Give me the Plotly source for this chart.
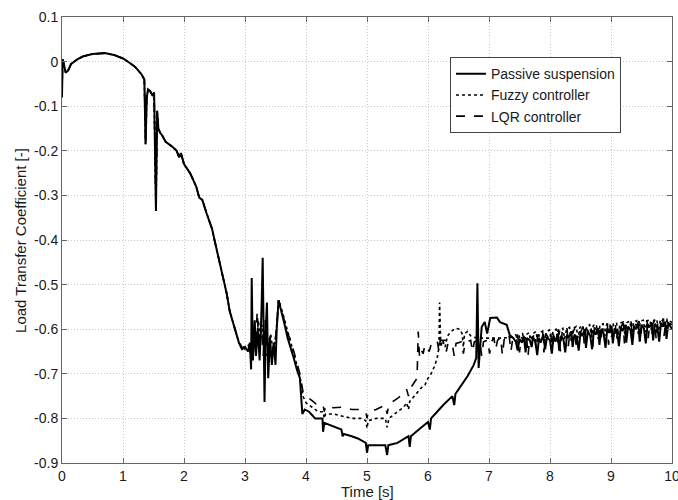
import plotly.graph_objects as go

# ---- data, (time [s], coefficient) pairs ----
early_pts = [(0.0, -0.08), (0.01, 0.005), (0.03, -0.005), (0.06, -0.025), (0.10, -0.02), (0.15, -0.005),
             (0.25, 0.005), (0.35, 0.012), (0.50, 0.017), (0.70, 0.019), (0.85, 0.015), (1.00, 0.007),
             (1.10, -0.002), (1.20, -0.012), (1.30, -0.028), (1.35, -0.04), (1.37, -0.185), (1.39, -0.08),
             (1.41, -0.062), (1.44, -0.065), (1.48, -0.075), (1.51, -0.07), (1.54, -0.335), (1.56, -0.11),
             (1.58, -0.15), (1.61, -0.16), (1.64, -0.165), (1.70, -0.18), (1.80, -0.19), (1.88, -0.20),
             (1.92, -0.215), (1.95, -0.205), (2.00, -0.23), (2.05, -0.24), (2.10, -0.25), (2.15, -0.265),
             (2.20, -0.28), (2.25, -0.305), (2.30, -0.31), (2.37, -0.34), (2.42, -0.36), (2.46, -0.375),
             (2.50, -0.40), (2.55, -0.43), (2.60, -0.46), (2.65, -0.49), (2.70, -0.52), (2.75, -0.56),
             (2.80, -0.585), (2.85, -0.61), (2.90, -0.63)]

passive_pts = [(2.95, -0.645), (3.00, -0.64), (3.05, -0.65), (3.08, -0.63), (3.10, -0.69), (3.11, -0.485),
               (3.13, -0.67), (3.16, -0.58), (3.18, -0.66), (3.21, -0.60), (3.24, -0.67), (3.27, -0.56),
               (3.29, -0.44), (3.32, -0.763), (3.34, -0.60), (3.36, -0.54), (3.38, -0.71), (3.41, -0.62),
               (3.44, -0.68), (3.47, -0.63), (3.50, -0.68), (3.52, -0.60), (3.55, -0.535), (3.60, -0.56),
               (3.65, -0.59), (3.70, -0.62), (3.75, -0.64), (3.80, -0.665), (3.85, -0.69), (3.90, -0.71),
               (3.94, -0.79), (3.98, -0.78), (4.05, -0.785), (4.15, -0.80), (4.27, -0.80), (4.28, -0.83),
               (4.30, -0.81), (4.40, -0.815), (4.50, -0.82), (4.58, -0.825), (4.60, -0.84), (4.62, -0.835),
               (4.75, -0.84), (4.85, -0.845), (4.98, -0.855), (5.00, -0.877), (5.02, -0.86), (5.15, -0.86),
               (5.30, -0.86), (5.33, -0.882), (5.35, -0.86), (5.50, -0.855), (5.68, -0.84), (5.70, -0.864),
               (5.72, -0.84), (5.85, -0.825), (6.00, -0.808), (6.03, -0.825), (6.05, -0.80), (6.15, -0.785),
               (6.25, -0.77), (6.40, -0.75), (6.43, -0.77), (6.45, -0.745), (6.55, -0.725), (6.65, -0.705),
               (6.75, -0.68), (6.79, -0.665), (6.81, -0.497), (6.83, -0.687), (6.88, -0.595), (6.93, -0.584),
               (6.97, -0.61), (7.02, -0.575), (7.13, -0.574), (7.18, -0.584), (7.29, -0.59), (7.34, -0.613),
               (7.40, -0.62), (7.44, -0.628), (7.47, -0.648), (7.50, -0.622), (7.54, -0.63), (7.57, -0.615),
               (7.60, -0.652), (7.62, -0.62), (7.67, -0.625), (7.70, -0.64), (7.72, -0.618), (7.76, -0.628),
               (7.79, -0.658), (7.82, -0.62), (7.85, -0.63), (7.89, -0.612), (7.92, -0.645), (7.95, -0.618),
               (8.00, -0.625), (8.03, -0.655), (8.06, -0.615), (8.09, -0.628), (8.13, -0.61), (8.15, -0.648),
               (8.18, -0.615), (8.22, -0.622), (8.25, -0.652), (8.28, -0.612), (8.31, -0.62), (8.35, -0.605),
               (8.37, -0.64), (8.40, -0.612), (8.44, -0.618), (8.47, -0.648), (8.50, -0.608), (8.53, -0.615),
               (8.57, -0.60), (8.59, -0.642), (8.62, -0.605), (8.66, -0.615), (8.69, -0.645), (8.72, -0.602),
               (8.75, -0.612), (8.79, -0.598), (8.81, -0.635), (8.84, -0.60), (8.88, -0.61), (8.91, -0.642),
               (8.94, -0.598), (8.97, -0.608), (9.01, -0.594), (9.03, -0.632), (9.06, -0.598), (9.10, -0.606),
               (9.13, -0.638), (9.16, -0.595), (9.19, -0.604), (9.23, -0.59), (9.25, -0.63), (9.28, -0.594),
               (9.32, -0.602), (9.35, -0.635), (9.38, -0.592), (9.41, -0.60), (9.45, -0.588), (9.47, -0.628),
               (9.50, -0.59), (9.54, -0.598), (9.57, -0.632), (9.60, -0.588), (9.63, -0.596), (9.67, -0.585),
               (9.69, -0.625), (9.72, -0.588), (9.76, -0.596), (9.79, -0.628), (9.82, -0.586), (9.85, -0.594),
               (9.89, -0.583), (9.91, -0.622), (9.94, -0.586), (9.97, -0.592), (10.0, -0.60)]

fuzzy_pts = [(2.95, -0.64), (3.00, -0.64), (3.05, -0.635), (3.10, -0.655), (3.15, -0.61), (3.18, -0.64),
             (3.22, -0.58), (3.25, -0.63), (3.28, -0.59), (3.31, -0.65), (3.35, -0.60), (3.38, -0.64),
             (3.42, -0.61), (3.46, -0.65), (3.50, -0.625), (3.55, -0.535), (3.60, -0.555), (3.65, -0.58),
             (3.70, -0.605), (3.75, -0.625), (3.80, -0.655), (3.85, -0.68), (3.90, -0.705), (3.95, -0.75),
             (4.00, -0.765), (4.10, -0.775), (4.20, -0.785), (4.28, -0.785), (4.30, -0.80), (4.32, -0.79),
             (4.45, -0.79), (4.60, -0.795), (4.75, -0.80), (4.90, -0.80), (4.98, -0.805), (5.00, -0.822),
             (5.02, -0.805), (5.15, -0.80), (5.30, -0.80), (5.33, -0.82), (5.36, -0.80), (5.50, -0.785),
             (5.60, -0.775), (5.65, -0.765), (5.68, -0.78), (5.70, -0.762), (5.80, -0.745), (5.90, -0.73),
             (5.95, -0.725), (6.00, -0.71), (6.05, -0.70), (6.10, -0.685), (6.15, -0.665), (6.18, -0.64),
             (6.19, -0.54), (6.21, -0.64), (6.24, -0.625), (6.28, -0.64), (6.32, -0.615), (6.38, -0.605),
             (6.45, -0.598), (6.52, -0.60), (6.56, -0.61), (6.58, -0.64), (6.60, -0.61), (6.65, -0.605),
             (6.70, -0.615), (6.75, -0.618), (6.80, -0.62), (7.00, -0.62), (7.20, -0.62), (7.40, -0.618),
             (7.44, -0.612), (7.47, -0.635), (7.50, -0.615), (7.55, -0.61), (7.58, -0.63), (7.61, -0.612),
             (7.66, -0.608), (7.69, -0.638), (7.72, -0.61), (7.77, -0.605), (7.80, -0.628), (7.83, -0.608),
             (7.88, -0.604), (7.91, -0.634), (7.94, -0.606), (7.99, -0.602), (8.02, -0.625), (8.05, -0.604),
             (8.10, -0.60), (8.13, -0.63), (8.16, -0.602), (8.21, -0.598), (8.24, -0.622), (8.27, -0.60),
             (8.32, -0.596), (8.35, -0.628), (8.38, -0.598), (8.43, -0.594), (8.46, -0.62), (8.49, -0.596),
             (8.54, -0.592), (8.57, -0.625), (8.60, -0.594), (8.65, -0.59), (8.68, -0.618), (8.71, -0.592),
             (8.76, -0.589), (8.79, -0.622), (8.82, -0.59), (8.87, -0.588), (8.90, -0.615), (8.93, -0.589),
             (8.98, -0.586), (9.01, -0.618), (9.04, -0.588), (9.09, -0.585), (9.12, -0.612), (9.15, -0.586),
             (9.20, -0.584), (9.23, -0.615), (9.26, -0.585), (9.31, -0.582), (9.34, -0.61), (9.37, -0.584),
             (9.42, -0.581), (9.45, -0.612), (9.48, -0.582), (9.53, -0.58), (9.56, -0.606), (9.59, -0.581),
             (9.64, -0.579), (9.67, -0.61), (9.70, -0.58), (9.75, -0.578), (9.78, -0.604), (9.81, -0.579),
             (9.86, -0.577), (9.89, -0.606), (9.92, -0.578), (10.0, -0.585)]

lqr_pts = [(2.95, -0.64), (3.00, -0.645), (3.05, -0.63), (3.10, -0.66), (3.14, -0.60), (3.17, -0.65),
           (3.20, -0.56), (3.23, -0.64), (3.27, -0.60), (3.30, -0.66), (3.33, -0.58), (3.36, -0.66),
           (3.40, -0.62), (3.44, -0.66), (3.48, -0.635), (3.52, -0.60), (3.55, -0.535), (3.60, -0.555),
           (3.65, -0.585), (3.70, -0.61), (3.75, -0.625), (3.80, -0.65), (3.85, -0.675), (3.90, -0.70),
           (3.95, -0.74), (4.00, -0.75), (4.10, -0.76), (4.20, -0.772), (4.28, -0.77), (4.30, -0.785),
           (4.32, -0.772), (4.45, -0.776), (4.60, -0.775), (4.75, -0.78), (4.90, -0.78), (4.98, -0.785),
           (5.00, -0.80), (5.02, -0.785), (5.15, -0.78), (5.30, -0.77), (5.33, -0.79), (5.36, -0.768),
           (5.50, -0.755), (5.60, -0.745), (5.65, -0.735), (5.68, -0.75), (5.70, -0.735), (5.78, -0.72),
           (5.82, -0.71), (5.83, -0.66), (5.84, -0.605), (5.86, -0.66), (5.88, -0.645), (5.92, -0.655),
           (5.95, -0.635), (5.98, -0.64), (6.02, -0.65), (6.05, -0.635), (6.10, -0.63), (6.15, -0.625),
           (6.18, -0.65), (6.20, -0.625), (6.28, -0.625), (6.30, -0.65), (6.33, -0.63), (6.40, -0.635),
           (6.43, -0.66), (6.46, -0.632), (6.55, -0.628), (6.58, -0.655), (6.61, -0.63), (6.70, -0.625),
           (6.73, -0.65), (6.76, -0.628), (6.85, -0.625), (6.88, -0.66), (6.91, -0.628), (6.98, -0.625),
           (7.01, -0.655), (7.04, -0.628), (7.08, -0.62), (7.11, -0.645), (7.14, -0.625), (7.19, -0.618),
           (7.22, -0.658), (7.25, -0.622), (7.29, -0.628), (7.33, -0.615), (7.36, -0.65), (7.39, -0.62),
           (7.43, -0.625), (7.47, -0.612), (7.50, -0.652), (7.53, -0.618), (7.57, -0.626), (7.61, -0.61),
           (7.64, -0.66), (7.67, -0.615), (7.71, -0.622), (7.75, -0.608), (7.77, -0.645), (7.80, -0.612),
           (7.84, -0.62), (7.88, -0.605), (7.90, -0.652), (7.93, -0.61), (7.97, -0.618), (8.01, -0.604),
           (8.03, -0.64), (8.06, -0.608), (8.10, -0.615), (8.14, -0.60), (8.17, -0.65), (8.20, -0.606),
           (8.24, -0.612), (8.28, -0.598), (8.30, -0.638), (8.33, -0.603), (8.37, -0.61), (8.41, -0.596),
           (8.43, -0.645), (8.46, -0.60), (8.50, -0.608), (8.54, -0.594), (8.56, -0.632), (8.59, -0.598),
           (8.63, -0.605), (8.67, -0.592), (8.70, -0.64), (8.73, -0.596), (8.77, -0.603), (8.81, -0.59),
           (8.83, -0.63), (8.86, -0.594), (8.90, -0.60), (8.94, -0.588), (8.96, -0.635), (8.99, -0.592),
           (9.03, -0.598), (9.07, -0.586), (9.09, -0.626), (9.12, -0.59), (9.16, -0.596), (9.20, -0.585),
           (9.22, -0.632), (9.25, -0.588), (9.29, -0.594), (9.33, -0.583), (9.35, -0.622), (9.38, -0.586),
           (9.42, -0.592), (9.46, -0.582), (9.48, -0.628), (9.51, -0.585), (9.55, -0.59), (9.59, -0.58),
           (9.61, -0.62), (9.64, -0.584), (9.68, -0.59), (9.72, -0.579), (9.74, -0.624), (9.77, -0.582),
           (9.81, -0.588), (9.85, -0.578), (9.87, -0.615), (9.90, -0.58), (9.94, -0.586), (10.0, -0.59)]

series_names = ["Passive suspension", "Fuzzy controller", "LQR controller"]
x_ticks = [0, 1, 2, 3, 4, 5, 6, 7, 8, 9, 10]
y_ticks = [0.1, 0.0, -0.1, -0.2, -0.3, -0.4, -0.5, -0.6, -0.7, -0.8, -0.9]
y_ticktext = ["0.1", "0", "-0.1", "-0.2", "-0.3", "-0.4", "-0.5", "-0.6", "-0.7", "-0.8", "-0.9"]


def unzip(pts):
    return [p[0] for p in pts], [p[1] for p in pts]


FONT = "Liberation Sans, Arial, sans-serif"
INK = "#1a1a1a"

fig = go.Figure()
styles = [dict(color="black", width=2.0),
          dict(color="black", width=1.6, dash="dot"),
          dict(color="black", width=1.6, dash="dash")]
for name, pts, st in zip(series_names, [passive_pts, fuzzy_pts, lqr_pts], styles):
    tx, vy = unzip(early_pts + pts)
    fig.add_trace(go.Scatter(x=tx, y=vy, mode="lines", name=name, line=st))

axis_common = dict(showline=True, linecolor="#666", linewidth=1, mirror="ticks",
                   ticks="inside", ticklen=5, tickcolor="#666",
                   showgrid=True, gridcolor="#c8c8c8", griddash="1px,2px", gridwidth=1,
                   zeroline=False, automargin=False, ticklabeloverflow="allow",
                   tickfont=dict(family=FONT, size=14, color=INK))

fig.update_xaxes(range=[0, 10], tickvals=x_ticks, **axis_common)
fig.update_yaxes(range=[-0.9, 0.1], tickvals=y_ticks, ticktext=y_ticktext, **axis_common)

fig.update_layout(
    width=678, height=500,
    margin=dict(l=62, r=6, t=17, b=37),
    paper_bgcolor="white", plot_bgcolor="white",
    font=dict(family=FONT, size=14, color=INK),
    showlegend=True,
    legend=dict(x=0.636, y=0.91, xanchor="left", yanchor="top",
                bgcolor="white", bordercolor="#444", borderwidth=1,
                font=dict(family=FONT, size=14, color=INK),
                tracegroupgap=0, itemwidth=30),
    annotations=[
        dict(text="Time [s]", xref="paper", yref="paper", x=0.5, y=-0.0635,
             xanchor="center", yanchor="middle", showarrow=False,
             font=dict(family=FONT, size=15, color=INK)),
        dict(text="Load Transfer Coefficient [-]", xref="paper", yref="paper",
             x=-0.069, y=0.5, xanchor="center", yanchor="middle", textangle=-90,
             showarrow=False, font=dict(family=FONT, size=15, color=INK)),
    ],
)

fig.write_html("out.html")
